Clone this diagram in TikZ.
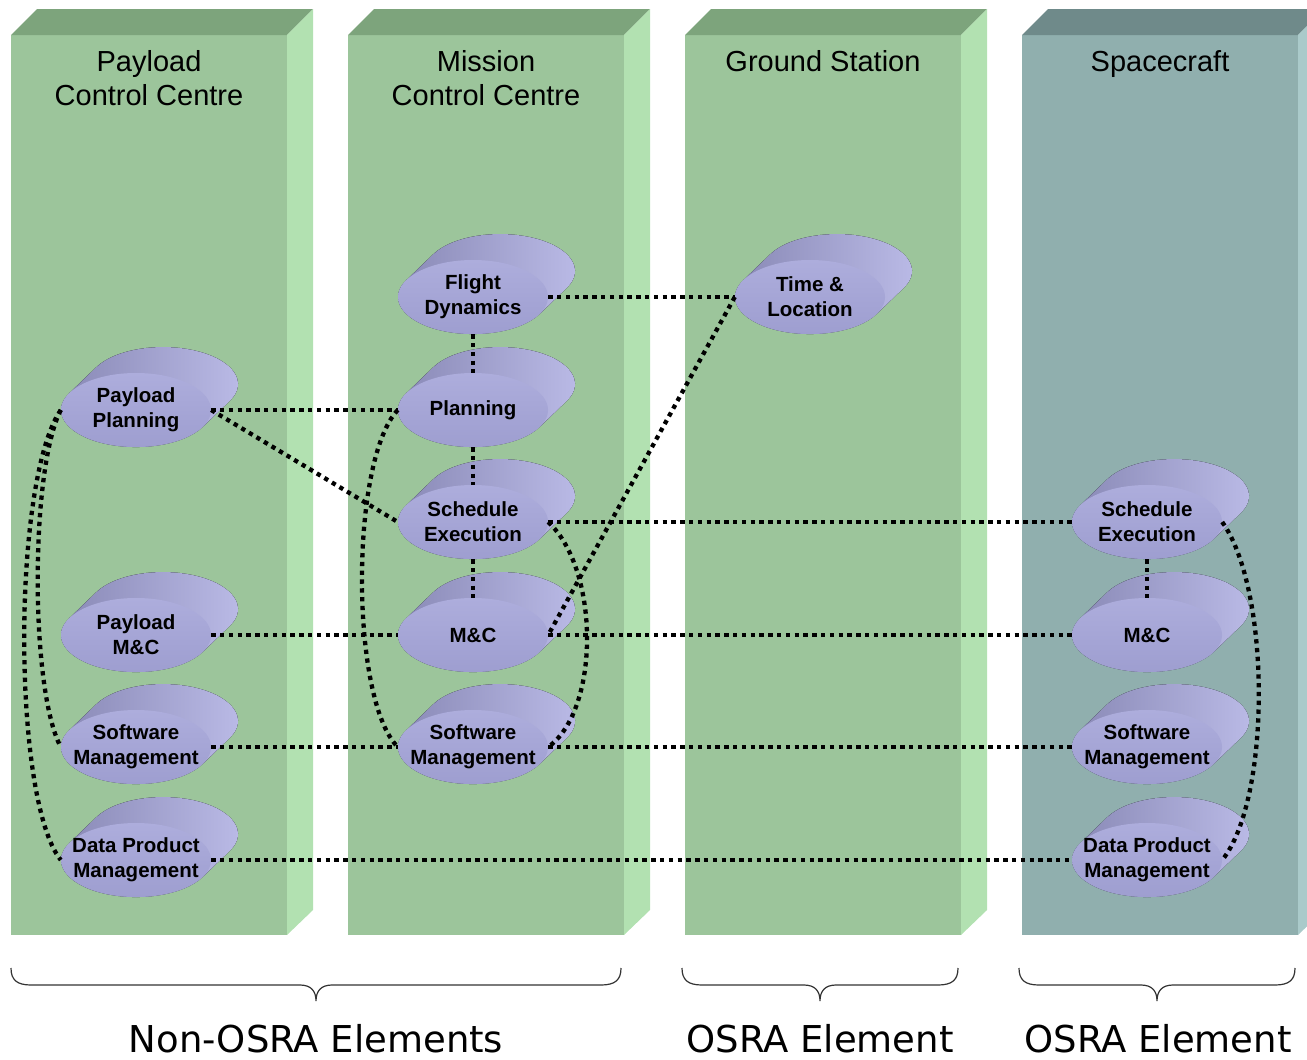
\documentclass[tikz,border=0pt]{standalone}
\usepackage{fontspec}
\setmainfont{Liberation Sans}
\newfontfamily\dejavu{DejaVu Sans}
\usetikzlibrary{shapes.geometric}

\definecolor{colFront}{HTML}{9CC59B}
\definecolor{colTop}{HTML}{7DA47C}
\definecolor{colSide}{HTML}{B2E1B1}
\definecolor{scFront}{HTML}{90AFAE}
\definecolor{scTop}{HTML}{6F8A8A}
\definecolor{scSide}{HTML}{AACACA}
\definecolor{cylBodyL}{HTML}{8686B3}
\definecolor{cylBodyR}{HTML}{BCBCE8}
\definecolor{cylFaceT}{HTML}{ADADDC}
\definecolor{cylFaceB}{HTML}{9E9ED0}

\tikzset{
  cylface/.style={ellipse, minimum width=150pt, minimum height=74pt, inner sep=0pt,
    top color=cylFaceT, bottom color=cylFaceB, align=center,
    font=\fontsize{20.5}{25}\selectfont\bfseries},
  cylbody/.style={left color=cylBodyL, right color=cylBodyR},
  conn/.style={line width=4.3pt, dash pattern=on 4.3pt off 4.5pt},
  coltitle/.style={anchor=north, inner sep=0pt, align=center,
    font=\fontsize{29}{34}\selectfont},
  grouplabel/.style={anchor=base, inner sep=0pt, font=\dejavu\fontsize{37}{44}\selectfont},
  bracestyle/.style={line width=1.2pt, draw=black!80},
}

% zero-width centred line, so that the ellipse keeps its fixed size
\newcommand\cl[1]{\makebox[0pt]{#1}}
% cylinder-like node: name, x, y, text
\newcommand\cylnode[4]{%
  \fill[cylbody] ([shift={(66.8,16.9)}]#2,#3) -- ++(27,-26)
    arc[start angle=27.1, end angle=-152.9, x radius=75, y radius=37]
    -- ++(-27,26)
    arc[start angle=207.1, end angle=27.1, x radius=75, y radius=37] -- cycle;
  \node[cylface] (#1) at (#2,#3) {#4};
}
% 3D column: left x, front colour, top colour, side colour
\newcommand\drawcolumn[4]{%
  \fill[#2] (#1,35) rectangle ++(276,900);
  \fill[#3] (#1,35) -- ++(26,-26) -- ++(276,0) -- ++(-26,26) -- cycle;
  \fill[#4] (#1+276,35) -- ++(26,-26) -- ++(0,901) -- ++(-26,25) -- cycle;
}
% curly brace: left x, right x, centre x
\newcommand\drawbrace[3]{%
  \draw[bracestyle] (#1,968) .. controls (#1,980) and (#1+6,985) .. (#1+20,985)
    -- (#3-16,985) .. controls (#3-5,985) and (#3,991) .. (#3,1001)
    .. controls (#3,991) and (#3+5,985) .. (#3+16,985)
    -- (#2-20,985) .. controls (#2-6,985) and (#2,980) .. (#2,968);
}

\begin{document}
\begin{tikzpicture}[x=1pt,y=-1pt]
\useasboundingbox (0,0) rectangle (1307,1060);
\clip (0,0) rectangle (1307,1060);

% columns
\drawcolumn{11}{colFront}{colTop}{colSide}
\drawcolumn{348}{colFront}{colTop}{colSide}
\drawcolumn{685}{colFront}{colTop}{colSide}
\drawcolumn{1022}{scFront}{scTop}{scSide}

% column titles
\node[coltitle] (t1) at (149,50) {Payload\\Control Centre};
\node[coltitle] (t2) at (486,50) {Mission\\Control Centre};
\node[coltitle] (t3) at (823,50) {Ground Station};
\node[coltitle] (t4) at (1160,50) {Spacecraft};

% nodes
\cylnode{fd}{473}{297}{\cl{Flight}\\\cl{Dynamics}}
\cylnode{pl}{473}{410}{\cl{Planning}}
\cylnode{mse}{473}{522}{\cl{Schedule}\\\cl{Execution}}
\cylnode{mmc}{473}{635}{\cl{M\&C}}
\cylnode{msm}{473}{747}{\cl{Software}\\\cl{Management}}
\cylnode{pp}{136}{410}{\cl{Payload}\\\cl{Planning}}
\cylnode{pmc}{136}{635}{\cl{Payload}\\\cl{M\&C}}
\cylnode{psm}{136}{747}{\cl{Software}\\\cl{Management}}
\cylnode{pdm}{136}{860}{\cl{Data Product}\\\cl{Management}}
\cylnode{tl}{810}{297}{\cl{Time \&}\\\cl{Location}}
\cylnode{sse}{1147}{522}{\cl{Schedule}\\\cl{Execution}}
\cylnode{smc}{1147}{635}{\cl{M\&C}}
\cylnode{ssm}{1147}{747}{\cl{Software}\\\cl{Management}}
\cylnode{sdm}{1147}{860}{\cl{Data Product}\\\cl{Management}}

% connectors
\draw[conn] (fd.east) -- (tl.west);
\draw[conn] (fd.south) -- (pl.north);
\draw[conn] (pl.south) -- (mse.north);
\draw[conn] (mse.south) -- (mmc.north);
\draw[conn] (sse.south) -- (smc.north);
\draw[conn] (pp.east) -- (pl.west);
\draw[conn] (pp.east) -- (mse.west);
\draw[conn] (tl.west) -- (mmc.east);
\draw[conn] (mse.east) -- (sse.west);
\draw[conn] (pmc.east) -- (mmc.west);
\draw[conn] (mmc.east) -- (smc.west);
\draw[conn] (psm.east) -- (msm.west);
\draw[conn] (msm.east) -- (ssm.west);
\draw[conn] (pdm.east) -- (sdm.west);
\draw[conn] (pp.west) .. controls (30,470) and (30,690) .. (psm.west);
\draw[conn] (pp.west) .. controls (12,480) and (12,800) .. (pdm.west);
\draw[conn] (pl.west) .. controls (350,460) and (350,700) .. (msm.west);
\draw[conn] (mse.east) .. controls (600,570) and (600,710) .. (msm.east);
\draw[conn] (sse.east) .. controls (1271,590) and (1271,800) .. (sdm.east);

% braces and group labels
\drawbrace{11}{621}{316}
\drawbrace{682}{958}{820}
\drawbrace{1019}{1295}{1157}
\node[grouplabel] (g1) at (316,1052) {Non-OSRA Elements};
\node[grouplabel] (g2) at (820,1052) {OSRA Element};
\node[grouplabel] (g3) at (1158,1052) {OSRA Element};
\end{tikzpicture}
\end{document}
